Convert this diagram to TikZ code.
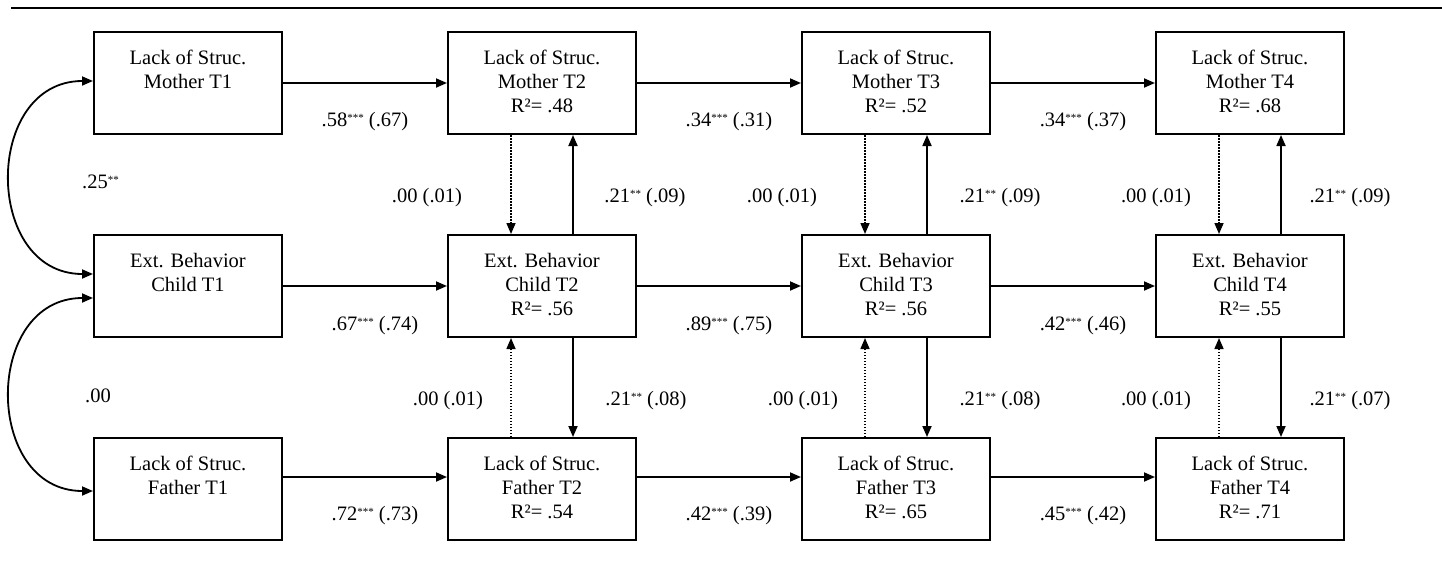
\documentclass[tikz,border=0pt]{standalone}
\usepackage{fontspec}
\setmainfont{Liberation Serif}
\usetikzlibrary{arrows.meta}
\newcommand\bxt[1]{\parbox[c][102pt][t]{188pt}{\centering\rule{0pt}{32pt}#1}}
\newcommand\sig[1]{\raisebox{5pt}{\fontsize{11}{11}\selectfont #1}}
\begin{document}
\begin{tikzpicture}[x=1pt,y=-1pt,
  box/.style={draw, line width=2pt, inner sep=0pt, font=\fontsize{20.5}{24}\selectfont},
  lab/.style={font=\fontsize{20.5}{24}\selectfont, inner sep=0pt, anchor=base},
  labw/.style={lab, anchor=base west},
  tip/.tip={Triangle[length=11pt,width=9pt]},
  arr/.style={line width=1.8pt, -tip},
  dotarr/.style={line width=1.5pt, dash pattern=on 1.5pt off 1.5pt, -tip},
  biarr/.style={line width=1.8pt, tip-tip}]
\useasboundingbox (0,0) rectangle (1442,560);
\coordinate (ruleA) at (11,8);
\coordinate (ruleB) at (1442,8);
\draw[line width=2pt] (ruleA) -- (ruleB);

% boxes
\node[box] (m1) at (188,83) {\bxt{Lack of Struc.\\Mother T1}};
\node[box] (m2) at (542,83) {\bxt{Lack of Struc.\\Mother T2\\R²= .48}};
\node[box] (m3) at (896,83) {\bxt{Lack of Struc.\\Mother T3\\R²= .52}};
\node[box] (m4) at (1250,83) {\bxt{Lack of Struc.\\Mother T4\\R²= .68}};
\node[box] (c1) at (188,286) {\bxt{Ext. Behavior\\Child T1}};
\node[box] (c2) at (542,286) {\bxt{Ext. Behavior\\Child T2\\R²= .56}};
\node[box] (c3) at (896,286) {\bxt{Ext. Behavior\\Child T3\\R²= .56}};
\node[box] (c4) at (1250,286) {\bxt{Ext. Behavior\\Child T4\\R²= .55}};
\node[box] (f1) at (188,489) {\bxt{Lack of Struc.\\Father T1}};
\node[box] (f2) at (542,489) {\bxt{Lack of Struc.\\Father T2\\R²= .54}};
\node[box] (f3) at (896,489) {\bxt{Lack of Struc.\\Father T3\\R²= .65}};
\node[box] (f4) at (1250,489) {\bxt{Lack of Struc.\\Father T4\\R²= .71}};

% horizontal paths
\draw[arr] (m1) -- (m2);
\draw[arr] (m2) -- (m3);
\draw[arr] (m3) -- (m4);
\draw[arr] (c1) -- (c2);
\draw[arr] (c2) -- (c3);
\draw[arr] (c3) -- (c4);
\draw[arr] ([yshift=12pt]f1.east) -- ([yshift=12pt]f2.west);
\draw[arr] ([yshift=12pt]f2.east) -- ([yshift=12pt]f3.west);
\draw[arr] ([yshift=12pt]f3.east) -- ([yshift=12pt]f4.west);

% vertical paths
\foreach \i in {2,3,4}{
  \draw[dotarr] ([xshift=-31pt]m\i.south) -- ([xshift=-31pt]c\i.north);
  \draw[arr] ([xshift=31pt]c\i.north) -- ([xshift=31pt]m\i.south);
  \draw[dotarr] ([xshift=-31pt]f\i.north) -- ([xshift=-31pt]c\i.south);
  \draw[arr] ([xshift=31pt]c\i.south) -- ([xshift=31pt]f\i.north);
}

% covariances
\draw[biarr] ([yshift=2pt]m1.west) .. controls +(-110,0) and +(-110,0) .. ([yshift=12pt]c1.west);
\draw[biarr] ([yshift=-12pt]c1.west) .. controls +(-110,0) and +(-110,0) .. ([yshift=-2pt]f1.west);

% labels
\node[labw] (l25) at (82,188) {.25\sig{**}};
\node[labw] (l00) at (85,402) {.00};

\node[lab] (lm12) at (365,126) {.58\sig{***} (.67)};
\node[lab] (lm23) at (729,126) {.34\sig{***} (.31)};
\node[lab] (lm34) at (1083,126) {.34\sig{***} (.37)};
\node[lab] (lc12) at (375,330) {.67\sig{***} (.74)};
\node[lab] (lc23) at (729,330) {.89\sig{***} (.75)};
\node[lab] (lc34) at (1083,330) {.42\sig{***} (.46)};
\node[lab] (lf12) at (375,520) {.72\sig{***} (.73)};
\node[lab] (lf23) at (729,520) {.42\sig{***} (.39)};
\node[lab] (lf34) at (1083,520) {.45\sig{***} (.42)};

\node[lab] (a2l) at (427,202) {.00 (.01)};
\node[lab] (a2r) at (645,202) {.21\sig{**} (.09)};
\node[lab] (a3l) at (782,202) {.00 (.01)};
\node[lab] (a3r) at (1000,202) {.21\sig{**} (.09)};
\node[lab] (a4l) at (1156,202) {.00 (.01)};
\node[lab] (a4r) at (1350,202) {.21\sig{**} (.09)};

\node[lab] (b2l) at (448,405) {.00 (.01)};
\node[lab] (b2r) at (646,405) {.21\sig{**} (.08)};
\node[lab] (b3l) at (803,405) {.00 (.01)};
\node[lab] (b3r) at (1000,405) {.21\sig{**} (.08)};
\node[lab] (b4l) at (1156,405) {.00 (.01)};
\node[lab] (b4r) at (1350,405) {.21\sig{**} (.07)};
\end{tikzpicture}
\end{document}
